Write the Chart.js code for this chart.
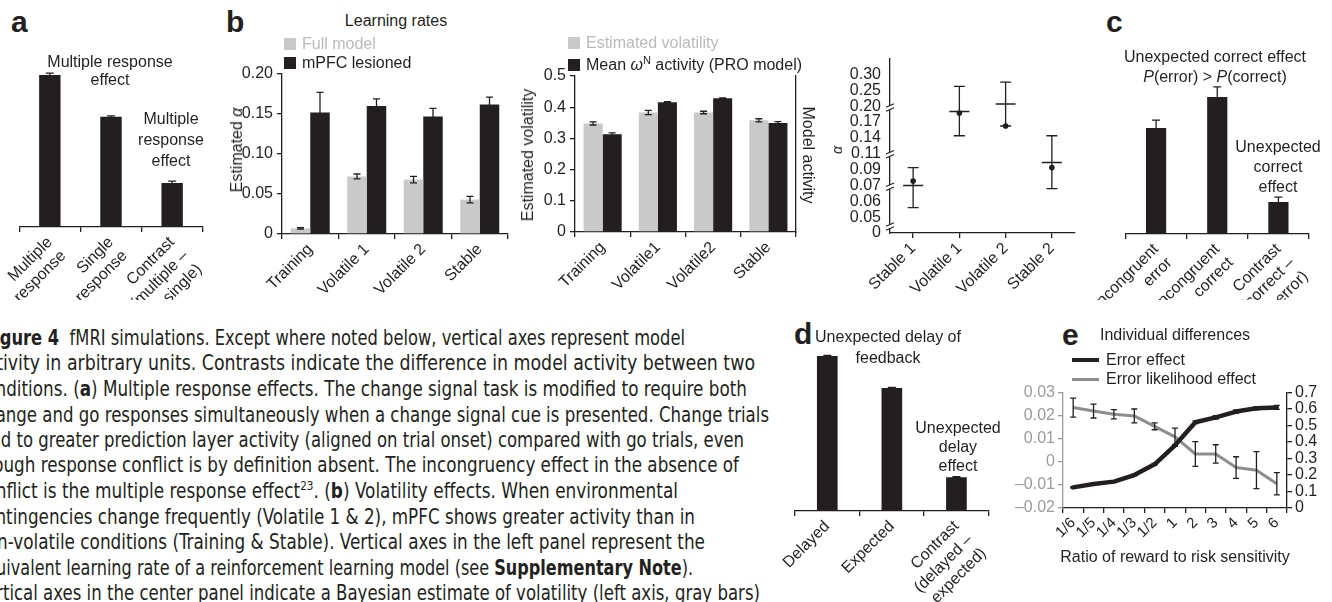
<!DOCTYPE html>
<html>
<head>
<meta charset="utf-8">
<script src="https://cdn.jsdelivr.net/npm/chart.js@4.4.1/dist/chart.umd.min.js"></script>
<style>
  body { margin: 0; width: 1332px; height: 602px; overflow: hidden; background: #fff; position: relative;
         font-family: "Liberation Sans", Arial, sans-serif; color: #231f20; }
  canvas { position: absolute; }
  .t { position: absolute; white-space: nowrap; font-size: 16px; line-height: 20px; text-align: center; transform: translate(-50%, -50%); }
  .l { position: absolute; white-space: nowrap; font-size: 16px; line-height: 20px; }
  .pl { position: absolute; font-weight: bold; font-size: 30px; line-height: 30px; }
  .sq { position: absolute; width: 12px; height: 12px; }
  .rot { position: absolute; white-space: nowrap; font-size: 16px; line-height: 20px; }
  .cap { position: absolute; left: -24px; white-space: nowrap; font-size: 21px; line-height: 24px; transform-origin: 0 50%;
         font-family: "Liberation Sans Narrow", "DejaVu Sans Condensed", "Liberation Sans", sans-serif; }
  .cap sup { font-size: 13px; line-height: 0; }
</style>
</head>
<body>

<!-- panel labels -->
<div class="pl" style="left:11px;top:7px">a</div>
<div class="pl" style="left:226px;top:7px">b</div>
<div class="pl" style="left:1106px;top:7px">c</div>
<div class="pl" style="left:794px;top:319px">d</div>
<div class="pl" style="left:1062px;top:320px">e</div>

<!-- a -->
<canvas id="chartA" width="215" height="260" style="left:0;top:40px"></canvas>
<div class="t" style="left:110px;top:71px;line-height:18px">Multiple response<br>effect</div>
<div class="t" style="left:171px;top:139px;line-height:21px">Multiple<br>response<br>effect</div>

<!-- b, left -->
<canvas id="chartB1" width="290" height="240" style="left:230px;top:60px"></canvas>
<div class="t" style="left:396px;top:21px">Learning rates</div>
<div class="sq" style="left:284px;top:38px;background:#c9c9c9"></div>
<div class="l" style="left:302px;top:34px;color:#bababa">Full model</div>
<div class="sq" style="left:284px;top:57px;background:#231f20"></div>
<div class="l" style="left:302px;top:53px">mPFC lesioned</div>
<div class="rot" style="left:237px;top:150px;transform:translate(-50%,-50%) rotate(-90deg)">Estimated <i>α</i></div>

<!-- b, centre -->
<canvas id="chartB2" width="300" height="240" style="left:520px;top:60px"></canvas>
<div class="sq" style="left:568px;top:37px;background:#c9c9c9"></div>
<div class="l" style="left:586px;top:33px;color:#bababa">Estimated volatility</div>
<div class="sq" style="left:568px;top:59px;background:#231f20"></div>
<div class="l" style="left:586px;top:55px">Mean <i>ω</i><sup style="font-size:11px;line-height:0">N</sup> activity (PRO model)</div>
<div class="rot" style="left:528px;top:155px;transform:translate(-50%,-50%) rotate(-90deg)">Estimated volatility</div>
<div class="rot" style="left:808px;top:155px;transform:translate(-50%,-50%) rotate(90deg)">Model activity</div>

<!-- b, right -->
<canvas id="chartB3" width="260" height="260" style="left:830px;top:40px"></canvas>
<div class="rot" style="left:837px;top:150px;font-size:14px;transform:translate(-50%,-50%) rotate(-90deg)"><i>α</i></div>

<!-- c -->
<canvas id="chartC" width="242" height="240" style="left:1090px;top:60px"></canvas>
<div class="t" style="left:1215px;top:67px">Unexpected correct effect<br><i>P</i>(error) &gt; <i>P</i>(correct)</div>
<div class="t" style="left:1278px;top:167px">Unexpected<br>correct<br>effect</div>

<!-- d -->
<canvas id="chartD" width="220" height="262" style="left:780px;top:340px"></canvas>
<div class="t" style="left:888px;top:347px;line-height:21px">Unexpected delay of<br>feedback</div>
<div class="t" style="left:958px;top:446px;line-height:19px">Unexpected<br>delay<br>effect</div>

<!-- e -->
<canvas id="chartE" width="332" height="222" style="left:1000px;top:380px"></canvas>
<div class="l" style="left:1100px;top:325px">Individual differences</div>
<div style="position:absolute;left:1072px;top:358px;width:27px;height:4px;background:#231f20"></div>
<div class="l" style="left:1106px;top:350px">Error effect</div>
<div style="position:absolute;left:1072px;top:378px;width:27px;height:3px;background:#8d8d8d"></div>
<div class="l" style="left:1106px;top:369px">Error likelihood effect</div>
<div class="t" style="left:1175px;top:557px">Ratio of reward to risk sensitivity</div>

<!-- caption -->
<div class="cap" style="top:326px;left:-17px"><b>Figure 4</b>&nbsp; fMRI simulations. Except where noted below, vertical axes represent model</div>
<div class="cap" style="top:351px">activity in arbitrary units. Contrasts indicate the difference in model activity between two</div>
<div class="cap" style="top:377px">conditions. (<b>a</b>) Multiple response effects. The change signal task is modified to require both</div>
<div class="cap" style="top:403px">change and go responses simultaneously when a change signal cue is presented. Change trials</div>
<div class="cap" style="top:428px">lead to greater prediction layer activity (aligned on trial onset) compared with go trials, even</div>
<div class="cap" style="top:453px">though response conflict is by definition absent. The incongruency effect in the absence of</div>
<div class="cap" style="top:479px">conflict is the multiple response effect<sup>23</sup>. (<b>b</b>) Volatility effects. When environmental</div>
<div class="cap" style="top:505px">contingencies change frequently (Volatile 1 &amp; 2), mPFC shows greater activity than in</div>
<div class="cap" style="top:530px">non-volatile conditions (Training &amp; Stable). Vertical axes in the left panel represent the</div>
<div class="cap" style="top:556px">equivalent learning rate of a reinforcement learning model (see <b>Supplementary Note</b>).</div>
<div class="cap" style="top:581px">Vertical axes in the center panel indicate a Bayesian estimate of volatility (left axis, gray bars)</div>

<script>
// ---- data ----
const aLabels = [["Multiple", "response"], ["Single", "response"], ["Contrast", "(multiple –", "single)"]];
const aValues = [0.91, 0.66, 0.263];
const aErr = [0.012, 0.006, 0.012];

const b1Labels = ["Training", "Volatile 1", "Volatile 2", "Stable"];
const b1Full = [0.007, 0.072, 0.068, 0.043];
const b1FullErr = [0.001, 0.003, 0.004, 0.004];
const b1Lesioned = [0.152, 0.160, 0.147, 0.162];
const b1LesionedErr = [0.025, 0.009, 0.010, 0.009];

const b2Labels = ["Training", "Volatile1", "Volatile2", "Stable"];
const b2Volatility = [0.348, 0.383, 0.383, 0.358];
const b2VolatilityErr = [0.005, 0.007, 0.004, 0.005];
const b2Activity = [0.313, 0.416, 0.429, 0.349];
const b2ActivityErr = [0.005, 0.002, 0.001, 0.005];

// broken axis: tick values, equally spaced
const b3Labels = ["Stable 1", "Volatile 1", "Volatile 2", "Stable 2"];
const b3TickValues = [0, 0.05, 0.06, 0.07, 0.09, 0.11, 0.14, 0.17, 0.20, 0.25, 0.30];
const b3TickLabels = ["0", "0.05", "0.06", "0.07", "0.09", "0.11", "0.14", "0.17", "0.20", "0.25", "0.30"];
const b3Mean = [0.070, 0.190, 0.207, 0.099];
const b3Dot = [0.0755, 0.187, 0.1625, 0.0925];
const b3High = [0.0925, 0.2625, 0.276, 0.144];
const b3Low = [0.056, 0.144, 0.1625, 0.068];

const cLabels = [["Incongruent", "error"], ["Incongruent", "correct"], ["Contrast", "(correct –", "error)"]];
const cValues = [0.688, 0.890, 0.208];
const cErr = [0.052, 0.065, 0.032];

const dLabels = ["Delayed", "Expected", ["Contrast", "(delayed –", "expected)"]];
const dValues = [0.963, 0.764, 0.21];
const dErr = [0.003, 0.003, 0.003];

const eLabels = ["1/6", "1/5", "1/4", "1/3", "1/2", "1", "2", "3", "4", "5", "6"];
const eErrorEffect = [0.125, 0.145, 0.16, 0.20, 0.265, 0.38, 0.52, 0.55, 0.585, 0.605, 0.61];
const eErrorEffectErr = [0.004, 0.004, 0.004, 0.005, 0.005, 0.006, 0.008, 0.01, 0.01, 0.01, 0.012];
const eLikelihood = [0.0235, 0.022, 0.0206, 0.0199, 0.0154, 0.0108, 0.0034, 0.0034, -0.0025, -0.0036, -0.0095];
const eLikelihoodErr = [0.0041, 0.003, 0.002, 0.003, 0.0015, 0.0038, 0.0054, 0.004, 0.0047, 0.008, 0.0048];

const INK = '#231f20';
const GRAY = '#c9c9c9';
const LGRAY = '#9a9a9a';

// ---- helpers ----
Chart.defaults.font.family = '"Liberation Sans", Arial, sans-serif';
Chart.defaults.font.size = 16;
Chart.defaults.color = INK;
Chart.defaults.animation = false;
Chart.defaults.responsive = false;
Chart.defaults.plugins.legend.display = false;
Chart.defaults.plugins.tooltip.enabled = false;

// error bars: symmetric "err" or explicit "lo"/"hi" on a dataset
const errorBars = {
  id: 'errorBars',
  afterDatasetsDraw(chart) {
    const ctx = chart.ctx;
    chart.data.datasets.forEach((ds, i) => {
      if (!ds.err && !ds.hi) return;
      const meta = chart.getDatasetMeta(i);
      const ys = chart.scales[meta.yAxisID];
      const w = ds.capWidth || 3.5;
      ctx.save();
      ctx.strokeStyle = INK;
      ctx.lineWidth = 1.3;
      meta.data.forEach((el, j) => {
        const hi = ds.hi ? ds.hi[j] : ds.data[j] + ds.err[j];
        const lo = ds.lo ? ds.lo[j] : ds.data[j] - ds.err[j];
        const top = ys.getPixelForValue(hi), bot = ys.getPixelForValue(lo);
        ctx.beginPath();
        ctx.moveTo(el.x, top); ctx.lineTo(el.x, bot);
        ctx.moveTo(el.x - w, top); ctx.lineTo(el.x + w, top);
        ctx.moveTo(el.x - w, bot); ctx.lineTo(el.x + w, bot);
        ctx.stroke();
      });
      ctx.restore();
    });
  }
};
Chart.register(errorBars);

function catAxis(h, gridOffset, fontSize) {
  return {
    offset: true,
    grid: { offset: gridOffset, drawOnChartArea: false, drawTicks: true, tickLength: 5, color: INK, lineWidth: 1.3 },
    border: { display: true, color: INK, width: 1.3 },
    ticks: { autoSkip: false, maxRotation: 45, minRotation: 45, padding: 1, color: INK, font: { size: fontSize || 16 } },
    afterFit: s => { s.height = h; }
  };
}

function valueAxis(w, min, max, step, fmt) {
  return {
    min: min, max: max,
    ticks: { stepSize: step, autoSkip: false, callback: fmt, padding: 4, color: INK },
    grid: { drawOnChartArea: false, tickLength: 5, color: INK, lineWidth: 1.3 },
    border: { color: INK, width: 1.3 },
    afterFit: s => { s.width = w; }
  };
}

function simpleBars(id, labels, values, err, pad, xh, pct) {
  new Chart(document.getElementById(id), {
    type: 'bar',
    data: { labels: labels, datasets: [{ data: values, err: err, backgroundColor: INK, barPercentage: pct, categoryPercentage: 1, capWidth: 4 }] },
    options: {
      layout: { padding: pad },
      scales: { x: catAxis(xh, true), y: { display: false, min: 0, max: 1 } }
    }
  });
}

// ---- a ----
simpleBars('chartA', aLabels, aValues, aErr, { left: 14, right: 12, top: 20 }, 73, 0.35);

// ---- b left ----
new Chart(document.getElementById('chartB1'), {
  type: 'bar',
  data: {
    labels: b1Labels,
    datasets: [
      { data: b1Full, err: b1FullErr, backgroundColor: GRAY, categoryPercentage: 0.69, barPercentage: 1 },
      { data: b1Lesioned, err: b1LesionedErr, backgroundColor: INK, categoryPercentage: 0.69, barPercentage: 1 }
    ]
  },
  options: {
    layout: { padding: { top: 14, right: 12 } },
    scales: {
      x: catAxis(66, true),
      y: valueAxis(52, 0, 0.2, 0.05, v => v === 0 ? '0' : v.toFixed(2))
    }
  }
});

// ---- b centre ----
new Chart(document.getElementById('chartB2'), {
  type: 'bar',
  data: {
    labels: b2Labels,
    datasets: [
      { data: b2Volatility, err: b2VolatilityErr, backgroundColor: GRAY, categoryPercentage: 0.69, barPercentage: 1 },
      { data: b2Activity, err: b2ActivityErr, backgroundColor: INK, categoryPercentage: 0.69, barPercentage: 1 }
    ]
  },
  options: {
    layout: { padding: { top: 16 } },
    scales: {
      x: catAxis(68, true),
      y: valueAxis(55, 0, 0.5, 0.1, v => v === 0 ? '0' : v.toFixed(1)),
      y2: {
        position: 'right', min: 0, max: 0.5,
        ticks: { display: false }, grid: { display: false, drawTicks: false },
        border: { display: true, color: INK, width: 1.3 },
        afterFit: s => { s.width = 24; }
      }
    }
  }
});

// ---- b right (broken axis, values placed on an evenly spaced tick index) ----
function toIndex(v) {
  for (let i = 1; i < b3TickValues.length; i++) {
    if (v <= b3TickValues[i]) {
      const a = b3TickValues[i - 1], b = b3TickValues[i];
      return i - 1 + (v - a) / (b - a);
    }
  }
  return b3TickValues.length - 1;
}
const axisBreaks = {
  id: 'axisBreaks',
  afterDraw(chart) {
    const ctx = chart.ctx, y = chart.scales.y, x0 = chart.chartArea.left;
    [7.9, 4.95, 2.9, 0.4].forEach(b => {
      const py = y.getPixelForValue(b);
      ctx.save();
      ctx.fillStyle = '#fff';
      ctx.fillRect(x0 - 3, py - 2, 6, 4);
      ctx.strokeStyle = INK;
      ctx.lineWidth = 1.1;
      ctx.beginPath();
      ctx.moveTo(x0 - 4, py - 0.5); ctx.lineTo(x0 + 4, py - 4);
      ctx.moveTo(x0 - 4, py + 3.5); ctx.lineTo(x0 + 4, py);
      ctx.stroke();
      ctx.restore();
    });
  }
};
new Chart(document.getElementById('chartB3'), {
  type: 'line',
  data: {
    labels: b3Labels,
    datasets: [
      { data: b3Mean.map(toIndex), hi: b3High.map(toIndex), lo: b3Low.map(toIndex), capWidth: 5.5,
        showLine: false, pointStyle: 'line', pointRadius: 10, pointBorderWidth: 1.6, borderColor: INK },
      { data: b3Dot.map(toIndex), showLine: false, pointStyle: 'circle', pointRadius: 2.8,
        backgroundColor: INK, borderColor: INK, pointBorderWidth: 0 }
    ]
  },
  options: {
    layout: { padding: { top: 17, right: 15 } },
    scales: {
      x: catAxis(67, false),
      y: {
        min: 0, max: 11,
        ticks: { stepSize: 1, autoSkip: false, padding: 9, color: INK,
                 callback: v => b3TickLabels[v] !== undefined ? b3TickLabels[v] : '' },
        grid: { drawOnChartArea: false, drawTicks: false },
        border: { color: INK, width: 1.3 },
        afterFit: s => { s.width = 60; }
      }
    }
  },
  plugins: [axisBreaks]
});

// ---- c ----
simpleBars('chartC', cLabels, cValues, cErr, { left: 32, right: 23, top: 20 }, 66, 0.33);

// ---- d ----
simpleBars('chartD', dLabels, dValues, dErr, { left: 15, right: 11, top: 10 }, 91, 0.32);

// ---- e ----
function signed(v) {
  const r = Math.round(v * 100) / 100;
  return r === 0 ? '0' : (r < 0 ? '–' : '') + Math.abs(r).toFixed(2);
}
new Chart(document.getElementById('chartE'), {
  type: 'line',
  data: {
    labels: eLabels,
    datasets: [
      { data: eErrorEffect, err: eErrorEffectErr, yAxisID: 'yR', borderColor: INK, borderWidth: 4.5,
        pointRadius: 0, borderCapStyle: 'round', borderJoinStyle: 'round', capWidth: 3 },
      { data: eLikelihood, err: eLikelihoodErr, yAxisID: 'yL', borderColor: '#8d8d8d', borderWidth: 3,
        pointRadius: 0, borderJoinStyle: 'round', capWidth: 3 }
    ]
  },
  options: {
    layout: { padding: { top: 12 } },
    scales: {
      x: catAxis(94, true, 15),
      yL: {
        position: 'left', min: -0.02, max: 0.03,
        ticks: { stepSize: 0.01, autoSkip: false, padding: 3, color: LGRAY, callback: signed },
        grid: { drawOnChartArea: false, tickLength: 5, color: LGRAY, lineWidth: 1.3 },
        border: { color: LGRAY, width: 1.3 },
        afterFit: s => { s.width = 63; }
      },
      yR: {
        position: 'right', min: 0, max: 0.7,
        ticks: { stepSize: 0.1, autoSkip: false, padding: 3, color: INK, callback: v => v === 0 ? '0' : v.toFixed(1) },
        grid: { drawOnChartArea: false, tickLength: 5, color: INK, lineWidth: 1.3 },
        border: { color: INK, width: 1.3 },
        afterFit: s => { s.width = 45; }
      }
    }
  }
});

// caption lines: stretch each to its measured right end
const capRight = [685, 755, 747, 769, 744, 739, 678, 695, 705, 693, 760];
document.querySelectorAll('.cap').forEach((el, i) => {
  const w = el.getBoundingClientRect().width;
  const left = parseFloat(getComputedStyle(el).left);
  el.style.transform = 'scaleX(' + ((capRight[i] - left) / w).toFixed(4) + ')';
});
</script>
</body>
</html>
